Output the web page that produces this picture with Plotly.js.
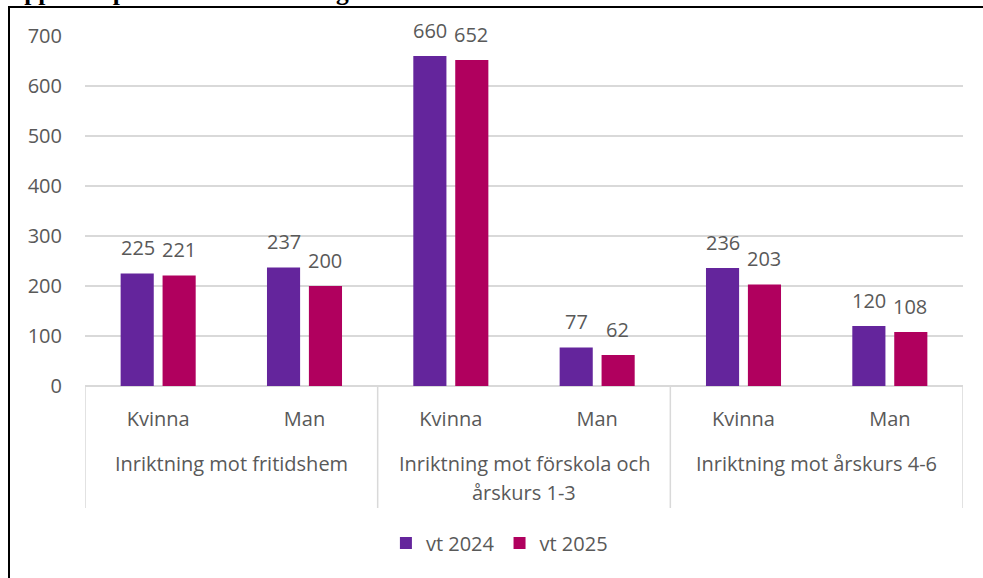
<!DOCTYPE html>
<html>
<head>
<meta charset="utf-8">
<script src="https://cdn.plot.ly/plotly-3.0.1.min.js"></script>
<style>html,body{margin:0;padding:0;background:#fff;}#chart{width:983px;height:578px;}</style>
</head>
<body>
<div id="chart"></div>
<script>
// Data
const genders = ["Kvinna", "Man", "Kvinna", "Man", "Kvinna", "Man"];
const groups = ["Inriktning mot fritidshem", "Inriktning mot förskola och|årskurs 1-3", "Inriktning mot årskurs 4-6"];
const seriesNames = ["vt 2024", "vt 2025"];
const vt2024 = [225, 237, 660, 77, 236, 120];
const vt2025 = [221, 200, 652, 62, 203, 108];
const titleText = "uppdelat på kön och inriktning";

const colors = ["#64259C", "#B0005E"];
const textColor = "#595959";
const gridColor = "#D9D9D9";
const fontFam = "'Open Sans', 'Noto Sans', sans-serif";
const fs = 20;

const idx = genders.map((_, i) => i);
const traces = [vt2024, vt2025].map((vals, k) => ({
  type: "bar",
  name: seriesNames[k],
  x: idx,
  y: vals,
  marker: {color: colors[k], line: {color: colors[k], width: 0}},
  hoverinfo: "skip"
}));

const plotTop = 36, plotBottom = 386, plotH = plotBottom - plotTop;
const pxToPaper = (py) => (plotBottom - py) / plotH;

const annotations = [];
// value labels
[vt2024, vt2025].forEach((vals, k) => {
  vals.forEach((v, i) => {
    annotations.push({
      x: i, y: v, xref: "x", yref: "y",
      xshift: (k === 0 ? -20.5 : 20.5),
      yshift: 26,
      text: String(v), showarrow: false,
      yanchor: "middle",
      font: {family: fontFam, size: fs, color: textColor}
    });
  });
});
// group labels
groups.forEach((g, gi) => {
  g.split("|").forEach((line, li) => {
    annotations.push({
      x: gi * 2 + 0.5, y: pxToPaper(463 + li * 29), xref: "x", yref: "paper",
      text: line, showarrow: false, yanchor: "middle",
      font: {family: fontFam, size: fs, color: textColor}
    });
  });
});
// cut-off title
annotations.push({
  x: (8 - 85) / 878, y: pxToPaper(8), xref: "paper", yref: "paper",
  xanchor: "left", yanchor: "bottom", text: "<b>" + titleText + "</b>", showarrow: false,
  font: {family: "'Liberation Serif', 'DejaVu Serif', serif", size: 25.5, color: "#000"}
});

const shapes = [];
// group dividers
[-0.5, 1.5, 3.5, 5.5].forEach(xv => {
  shapes.push({type: "line", xref: "x", yref: "paper", x0: xv, x1: xv,
    y0: 0, y1: pxToPaper(508), line: {color: gridColor, width: 1.5}});
});
// outer frame
shapes.push({type: "rect", xref: "paper", yref: "paper",
  x0: (9 - 85) / 878, x1: (1000 - 85) / 878,
  y0: pxToPaper(600), y1: pxToPaper(7),
  line: {color: "#000", width: 2}, fillcolor: "rgba(0,0,0,0)", layer: "below"});

const layout = {
  width: 983, height: 578,
  margin: {l: 85, r: 20, t: plotTop, b: 578 - plotBottom},
  paper_bgcolor: "#fff", plot_bgcolor: "#fff",
  barmode: "group", bargap: 0.427, bargroupgap: 0.21,
  showlegend: true,
  legend: {orientation: "h", x: 0.472, xanchor: "center", y: pxToPaper(543), yanchor: "middle",
    font: {family: fontFam, size: fs, color: textColor}, itemwidth: 30, traceorder: "normal"},
  xaxis: {
    range: [-0.5, 5.5], tickvals: idx, ticktext: genders,
    showgrid: false, zeroline: false, showline: false, ticks: "",
    ticklabelstandoff: 19,
    tickfont: {family: fontFam, size: fs, color: textColor}, fixedrange: true
  },
  yaxis: {
    range: [0, 700], dtick: 100, showgrid: true, gridcolor: gridColor, gridwidth: 1.5,
    zeroline: true, zerolinecolor: gridColor, zerolinewidth: 1.5,
    showline: false, ticks: "", ticklabelstandoff: 22,
    tickfont: {family: fontFam, size: fs, color: textColor}, fixedrange: true
  },
  annotations: annotations,
  shapes: shapes
};

Plotly.newPlot("chart", traces, layout, {displayModeBar: false, staticPlot: true});
</script>
</body>
</html>
